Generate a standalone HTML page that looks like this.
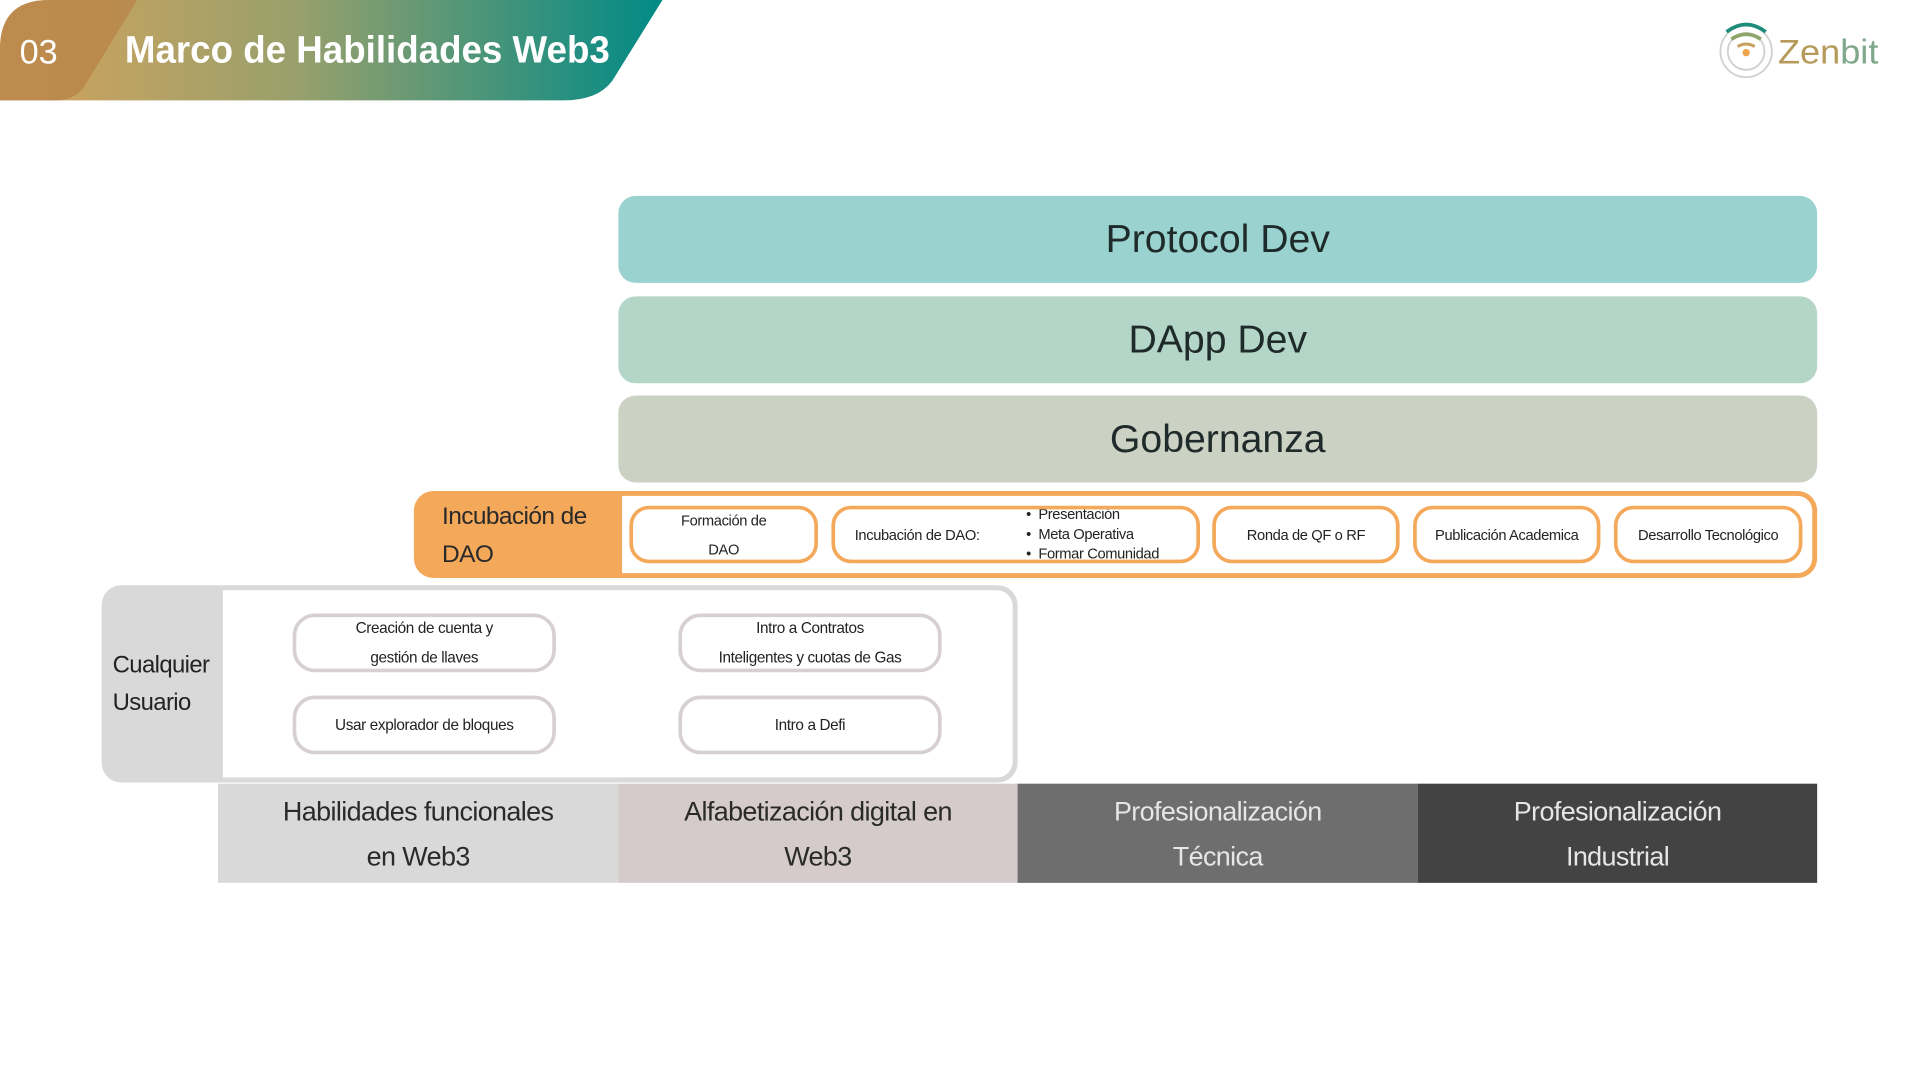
<!DOCTYPE html>
<html><head><meta charset="utf-8"><style>
html,body{margin:0;padding:0;width:1920px;height:1080px;overflow:hidden;background:#fff}
#s{position:absolute;left:0;top:0;width:1568px;height:882px;transform:scale(1.2245);transform-origin:0 0;font-family:"Liberation Sans",sans-serif;color:#222}
.a{position:absolute;box-sizing:border-box}
.c{display:flex;align-items:center;justify-content:center;text-align:center}
.big{border-radius:14px;font-size:32px;color:#1f2a2a}
.op{border:3px solid #F4A85A;border-radius:16px;background:#fff;font-size:12px;line-height:24px;white-space:nowrap;letter-spacing:-0.3px}
.gp{border:3px solid #d6d0d0;border-radius:18px;background:#fff;font-size:12.5px;line-height:24px;letter-spacing:-0.3px}
.bt{font-size:22px;line-height:37px;letter-spacing:-0.5px}
</style></head><body><div id="s">
<svg class="a" style="left:0;top:0" width="545" height="84">
<defs><linearGradient id="g" x1="0" x2="1"><stop offset="0" stop-color="#d6a35c"/><stop offset="0.45" stop-color="#98a06c"/><stop offset="1" stop-color="#008a86"/></linearGradient></defs>
<path d="M40 0 H541 L500 66 Q488 82 460 82 H0 V40 Q0 0 40 0Z" fill="url(#g)"/>
<path d="M40 0 H112 L68 72 Q60 82 45 82 H0 V40 Q0 0 40 0Z" fill="#b8874a" opacity="0.85"/>
<text x="16" y="52" font-family="Liberation Sans" font-size="28" fill="#fff">03</text>
<text x="102" y="51" font-family="Liberation Sans" font-weight="bold" font-size="31" fill="#fff" textLength="396" lengthAdjust="spacingAndGlyphs">Marco de Habilidades Web3</text>
</svg>
<svg class="a" style="top:14px;left:1400px" width="140" height="54">
<circle cx="26" cy="28" r="21" fill="none" stroke="#d0d0d4" stroke-width="1.5"/>
<circle cx="26" cy="28" r="15" fill="none" stroke="#d0d0d4" stroke-width="1.5"/>
<path d="M10 12 Q26 0 42 12" fill="none" stroke="#1e8c7a" stroke-width="3"/>
<path d="M14 18 Q26 10 38 18" fill="none" stroke="#8ea56a" stroke-width="3"/>
<path d="M19 24 Q26 20 33 24" fill="none" stroke="#c9a060" stroke-width="2.5"/>
<circle cx="26" cy="29" r="3" fill="#f0a54a"/>
<text x="52" y="38" font-family="Liberation Sans" font-size="28" fill="#b59a5a" textLength="82" lengthAdjust="spacingAndGlyphs">Zen<tspan fill="#7fa88a">bit</tspan></text>
</svg>
<div class="a c big" style="left:505px;top:160px;width:979px;height:71px;background:#9AD2D0">Protocol Dev</div>
<div class="a c big" style="left:505px;top:242px;width:979px;height:71px;background:#B4D6C8">DApp Dev</div>
<div class="a c big" style="left:505px;top:323px;width:979px;height:71px;background:#CBD2C4">Gobernanza</div>
<div class="a" style="left:338px;top:401px;width:1146px;height:71px;background:#F4A85A;border-radius:16px"></div>
<div class="a" style="left:508px;top:405px;width:972px;height:63px;background:#fff;border-radius:0 12px 12px 0"></div>
<div class="a" style="left:361px;top:407px;font-size:20px;line-height:31px;color:#2a2a2a;letter-spacing:-0.5px">Incubación de<br>DAO</div>
<div class="a c op" style="left:514px;top:413px;width:154px;height:47px">Formación de<br>DAO</div>
<div class="a op" style="left:679px;top:413px;width:301px;height:47px;overflow:hidden">
<div class="a" style="left:16px;top:9px">Incubación de DAO:</div>
<div class="a" style="left:156px;top:-4px;line-height:16px;white-space:nowrap">• &nbsp;Presentación<br>• &nbsp;Meta Operativa<br>• &nbsp;Formar Comunidad</div></div>
<div class="a c op" style="left:990px;top:413px;width:153px;height:47px">Ronda de QF o RF</div>
<div class="a c op" style="left:1154px;top:413px;width:153px;height:47px">Publicación Academica</div>
<div class="a c op" style="left:1318px;top:413px;width:154px;height:47px">Desarrollo Tecnológico</div>
<div class="a" style="left:83px;top:478px;width:748px;height:161px;background:#D9D9D9;border-radius:16px"></div>
<div class="a" style="left:182px;top:482px;width:645px;height:153px;background:#fff;border-radius:0 13px 13px 0"></div>
<div class="a" style="left:92px;top:528px;font-size:19.5px;line-height:31px;letter-spacing:-0.5px">Cualquier<br>Usuario</div>
<div class="a c gp" style="left:239px;top:501px;width:215px;height:48px">Creación de cuenta y<br>gestión de llaves</div>
<div class="a c gp" style="left:239px;top:568px;width:215px;height:48px">Usar explorador de bloques</div>
<div class="a c gp" style="left:554px;top:501px;width:215px;height:48px">Intro a Contratos<br>Inteligentes y cuotas de Gas</div>
<div class="a c gp" style="left:554px;top:568px;width:215px;height:48px">Intro a Defi</div>
<div class="a c bt" style="left:178px;top:640px;height:81px;width:327px;background:#D9D9D9;color:#2a2a2a">Habilidades funcionales<br>en Web3</div>
<div class="a c bt" style="left:505px;top:640px;height:81px;width:326px;background:#D4CBCA;color:#2a2a2a">Alfabetización digital en<br>Web3</div>
<div class="a c bt" style="left:831px;top:640px;height:81px;width:327px;background:#6E6E6E;color:#e6e6e6">Profesionalización<br>Técnica</div>
<div class="a c bt" style="left:1158px;top:640px;height:81px;width:326px;background:#434343;color:#e6e6e6">Profesionalización<br>Industrial</div>
</div></body></html>
